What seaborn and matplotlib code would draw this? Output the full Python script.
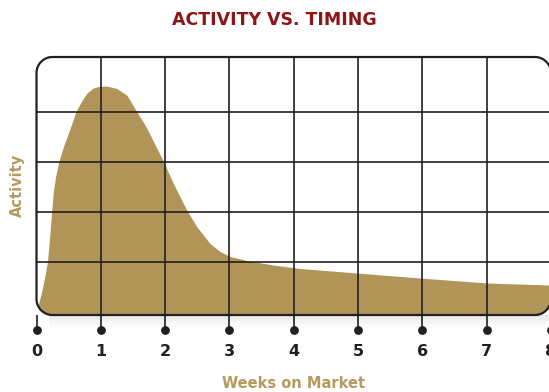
import numpy as np
import pandas as pd
import matplotlib
matplotlib.use("Agg")
import matplotlib.pyplot as plt
import seaborn as sns
from matplotlib.patches import Polygon, Rectangle

# ---- data ----
weeks = [0, 1, 2, 3, 4, 5, 6, 7, 8]
week_labels = ["0", "1", "2", "3", "4", "5", "6", "7", "8"]
activity_levels = [1, 2, 3, 4]
curve_weeks = [0.008, 0.028, 0.081, 0.13, 0.171, 0.205, 0.236, 0.262, 0.30, 0.347,
               0.42, 0.52, 0.614, 0.677, 0.728, 0.785, 0.883, 0.972, 1.065, 1.159,
               1.247, 1.403, 1.558, 1.714, 1.869, 1.972, 2.128, 2.336, 2.491, 2.698,
               2.854, 3.009, 3.269, 3.683, 4.098, 4.98, 5.96, 7.01, 7.97, 8.05]
curve_activity = [-0.07, 0.13, 0.40, 0.70, 1.0, 1.5, 2.0, 2.4, 2.72, 3.0,
                  3.30, 3.65, 4.0, 4.15, 4.26, 4.37, 4.47, 4.50, 4.51, 4.49,
                  4.46, 4.33, 4.0, 3.67, 3.27, 3.01, 2.56, 2.03, 1.70, 1.36,
                  1.20, 1.10, 1.02, 0.93, 0.86, 0.77, 0.67, 0.57, 0.53, 0.52]

title = "ACTIVITY VS. TIMING"
x_label = "Weeks on Market"
y_label = "Activity"

GOLD = "#B19458"
LABEL_GOLD = "#B39A5E"
DARK = "#231F20"
RED = "#8E1515"

sns.set_theme(style="white")
plt.rcParams['font.family'] = ['DejaVu Sans']

W_PX, H_PX = 549, 392
fig = plt.figure(figsize=(W_PX / 100, H_PX / 100), dpi=100)
ax_left, ax_right, ax_top, ax_bottom = 36.5, 550.9, 57, 315
aw, ah = ax_right - ax_left, ax_bottom - ax_top
ax = fig.add_axes([ax_left / W_PX, (H_PX - ax_bottom) / H_PX, aw / W_PX, ah / H_PX])
ymin, ymax = -0.07, 5.09
ax.set_xlim(0, 8)
ax.set_ylim(ymin, ymax)
for s in ax.spines.values():
    s.set_visible(False)
ax.patch.set_alpha(0)


def rounded_frame(w, h, r, n=24):
    pts = []
    for cx, cy, a0 in [(w - r, r, -90), (w - r, h - r, 0), (r, h - r, 90), (r, r, 180)]:
        ang = np.radians(np.linspace(a0, a0 + 90, n))
        pts.extend(zip(cx + r * np.cos(ang), cy + r * np.sin(ang)))
    return np.array(pts) / [w, h]


box = Polygon(rounded_frame(aw, ah, 16), closed=True, transform=ax.transAxes,
              fc="none", ec=DARK, lw=1.6, clip_on=False, zorder=6, joinstyle="round")
ax.add_patch(box)

# soft shadow under the frame
for i in range(1, 10):
    ax.add_patch(Rectangle((0.025, -i * 1.5 / ah), 0.975, 1.5 / ah, transform=ax.transAxes,
                           fc="#000000", alpha=0.11 * (1 - i / 10) ** 1.5, lw=0,
                           clip_on=False, zorder=0))

df = pd.DataFrame({"week": curve_weeks, "activity": curve_activity})

# area
sns.lineplot(data=df, x="week", y="activity", ax=ax, color=GOLD, lw=0, zorder=2)
fill = ax.fill_between(df["week"], df["activity"], ymin, color=GOLD, lw=0, zorder=2)
fill.set_clip_path(box)

# grid
ax.vlines(weeks[1:-1], ymin, ymax, color=DARK, lw=1.2, zorder=4)
ax.hlines(activity_levels, 0, 8, color=DARK, lw=1.2, zorder=4)

# stubs and dots under the frame
xt = ax.get_xaxis_transform()
dot_y = -15 / ah
ax.vlines(weeks, dot_y, 0, transform=xt, color=DARK, lw=1.2, clip_on=False, zorder=4)
ax.scatter(weeks, [dot_y] * len(weeks), transform=xt, s=40, color=DARK,
           clip_on=False, zorder=5, lw=0)

ax.set_xticks(weeks, week_labels)
ax.set_yticks([])
ax.tick_params(axis="x", length=0, pad=21, labelsize=11.5, labelcolor=DARK)
for t in ax.get_xticklabels():
    t.set_fontweight("bold")

ax.set_xlabel(x_label, fontsize=10.5, fontweight="bold", color=LABEL_GOLD)
ax.xaxis.set_label_coords(0.5, (ax_bottom - 384) / ah)
ax.xaxis.label.set_va("center")
ax.set_ylabel(y_label, fontsize=10.5, fontweight="bold", color=LABEL_GOLD)
ax.yaxis.set_label_coords((17 - ax_left) / aw, (ax_bottom - 185) / ah)
ax.yaxis.label.set_va("center")

fig.text(0.5, 1 - 20 / H_PX, title, ha="center", va="center", fontsize=12.5,
         fontweight="bold", color=RED)

fig.savefig("out.png", dpi=100)
